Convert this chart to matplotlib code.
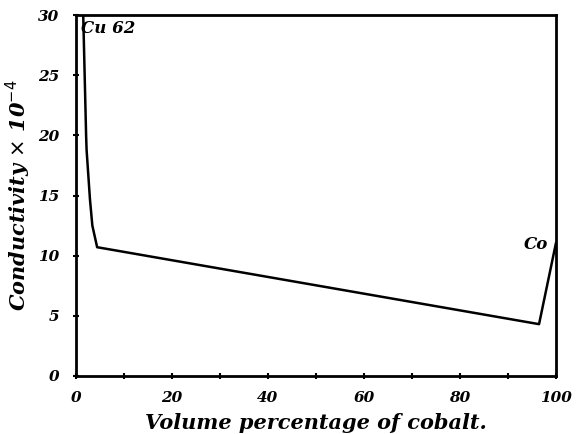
import matplotlib.pyplot as plt
from matplotlib.ticker import MultipleLocator

# conductivity of copper-cobalt alloys
cobalt_pct = [1.5, 1.8, 2.1, 2.2, 2.9, 3.4, 4.4, 96.5, 100]
conductivity = [30, 25, 20, 18.8, 14.7, 12.5, 10.7, 4.3, 11]

x_ticks = [0, 20, 40, 60, 80, 100]
y_ticks = [0, 5, 10, 15, 20, 25, 30]

font = dict(family="DejaVu Serif", style="italic", weight="bold")

fig = plt.figure(figsize=(5.76, 4.34), dpi=100)
ax = fig.add_axes([0.132, 0.134, 0.833, 0.831])

ax.plot(cobalt_pct, conductivity, color="black", linewidth=1.8, solid_joinstyle="round")

ax.set_xlim(0, 100)
ax.set_ylim(0, 30)
ax.set_xticks(x_ticks)
ax.set_yticks(y_ticks)
ax.xaxis.set_minor_locator(MultipleLocator(10))
ax.set_xticklabels([str(v) for v in x_ticks], fontsize=11, **font)
ax.set_yticklabels([str(v) for v in y_ticks], fontsize=11, **font)
ax.tick_params(which="both", direction="inout", length=4, width=1.5)
ax.tick_params(axis="x", pad=9)
ax.tick_params(axis="y", pad=10)

for s in ax.spines.values():
    s.set_linewidth(2)

ax.text(1.0, 29.6, "Cu 62", fontsize=12, ha="left", va="top", **font)
ax.text(98.5, 10.2, "Co", fontsize=12, ha="right", va="bottom", **font)

ax.set_xlabel("Volume percentage of cobalt.", fontsize=15, labelpad=6, **font)
ax.set_ylabel(r"Conductivity $\times$ 10$^{-4}$", fontsize=15, labelpad=4, **font)

fig.savefig("out.png")
